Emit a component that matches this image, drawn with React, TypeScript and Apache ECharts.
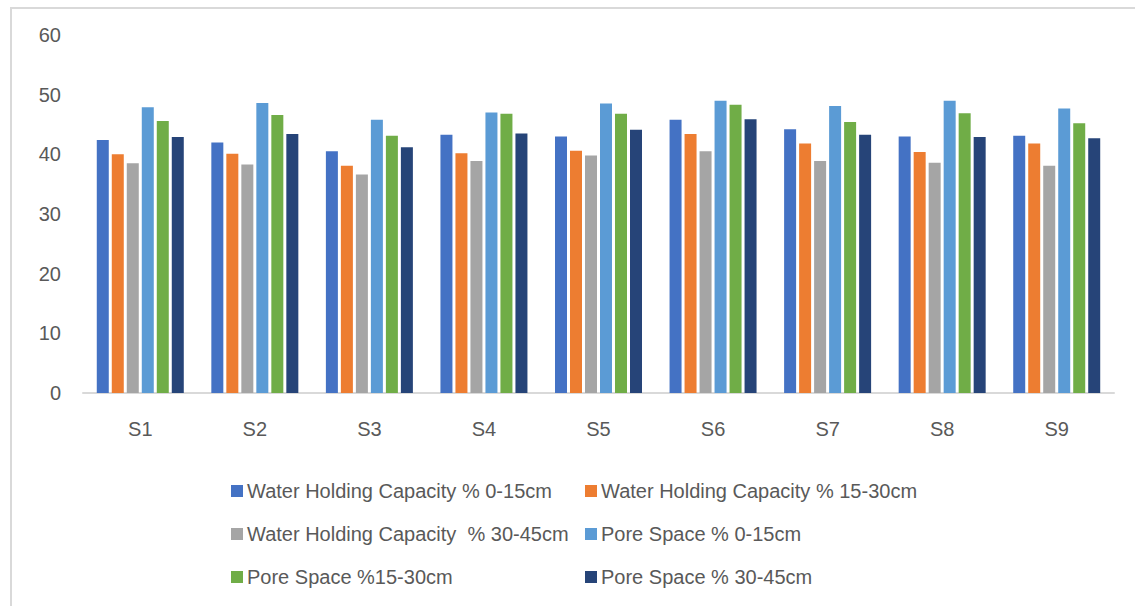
import React, { useEffect, useRef } from "react";
import * as echarts from "echarts";

// Soil samples
const categories = ["S1", "S2", "S3", "S4", "S5", "S6", "S7", "S8", "S9"];

const seriesNames = [
  "Water Holding Capacity % 0-15cm",
  "Water Holding Capacity % 15-30cm",
  "Water Holding Capacity  % 30-45cm",
  "Pore Space % 0-15cm",
  "Pore Space %15-30cm",
  "Pore Space % 30-45cm",
];

const whc0to15 = [42.4, 42.0, 40.5, 43.3, 43.0, 45.8, 44.2, 43.0, 43.1];
const whc15to30 = [40.0, 40.1, 38.1, 40.2, 40.6, 43.4, 41.8, 40.4, 41.8];
const whc30to45 = [38.5, 38.3, 36.6, 38.9, 39.8, 40.5, 38.9, 38.6, 38.1];
const pore0to15 = [47.9, 48.6, 45.8, 47.0, 48.5, 49.0, 48.1, 49.0, 47.7];
const pore15to30 = [45.6, 46.6, 43.1, 46.8, 46.8, 48.3, 45.4, 46.9, 45.2];
const pore30to45 = [42.9, 43.4, 41.2, 43.5, 44.1, 45.9, 43.3, 42.9, 42.7];

const seriesData = [whc0to15, whc15to30, whc30to45, pore0to15, pore15to30, pore30to45];

const colors = ["#4472C4", "#ED7D31", "#A5A5A5", "#5B9BD5", "#70AD47", "#264478"];

const yTicks = { min: 0, max: 60, interval: 10 };

const FONT = "'Liberation Sans', Arial, sans-serif";
const TEXT_COLOR = "#595959";

export default function App() {
  const ref = useRef<HTMLDivElement>(null);

  useEffect(() => {
    if (!ref.current) return;
    const chart = echarts.init(ref.current, undefined, { renderer: "svg" });

    const legendCommon = {
      orient: "vertical" as const,
      top: 481,
      itemWidth: 12,
      itemHeight: 12,
      itemGap: 23,
      icon: "rect",
      textStyle: {
        fontFamily: FONT,
        fontSize: 20,
        color: TEXT_COLOR,
        lineHeight: 20,
        padding: [0, 0, 0, -1],
      },
      padding: 0,
    };

    chart.setOption({
      animation: false,
      color: colors,
      textStyle: { fontFamily: FONT },
      grid: { left: 83, right: 21, top: 35, bottom: 213, containLabel: false },
      xAxis: {
        type: "category",
        data: categories,
        axisLine: { lineStyle: { color: "#D9D9D9", width: 2 } },
        axisTick: { show: false },
        axisLabel: {
          fontFamily: FONT,
          fontSize: 20,
          color: TEXT_COLOR,
          margin: 26,
        },
      },
      yAxis: {
        type: "value",
        min: yTicks.min,
        max: yTicks.max,
        interval: yTicks.interval,
        splitLine: { show: false },
        axisLine: { show: false },
        axisTick: { show: false },
        axisLabel: {
          fontFamily: FONT,
          fontSize: 20,
          color: TEXT_COLOR,
          margin: 22,
        },
      },
      legend: [
        { ...legendCommon, left: 231, data: [seriesNames[0], seriesNames[2], seriesNames[4]] },
        { ...legendCommon, left: 585, data: [seriesNames[1], seriesNames[3], seriesNames[5]] },
      ],
      graphic: [
        {
          type: "rect",
          shape: { x: 11, y: 8, width: 1300, height: 800 },
          style: { fill: "none", stroke: "#D9D9D9", lineWidth: 2 },
          silent: true,
        },
      ],
      series: seriesNames.map((name, i) => ({
        name,
        type: "bar",
        data: seriesData[i],
        barWidth: 12,
        barGap: "25%",
        itemStyle: { color: colors[i] },
      })),
    });

    return () => chart.dispose();
  }, []);

  return (
    <div
      ref={ref}
      style={{ position: "fixed", left: 0, top: 0, width: 1135, height: 606, background: "#fff" }}
    />
  );
}
